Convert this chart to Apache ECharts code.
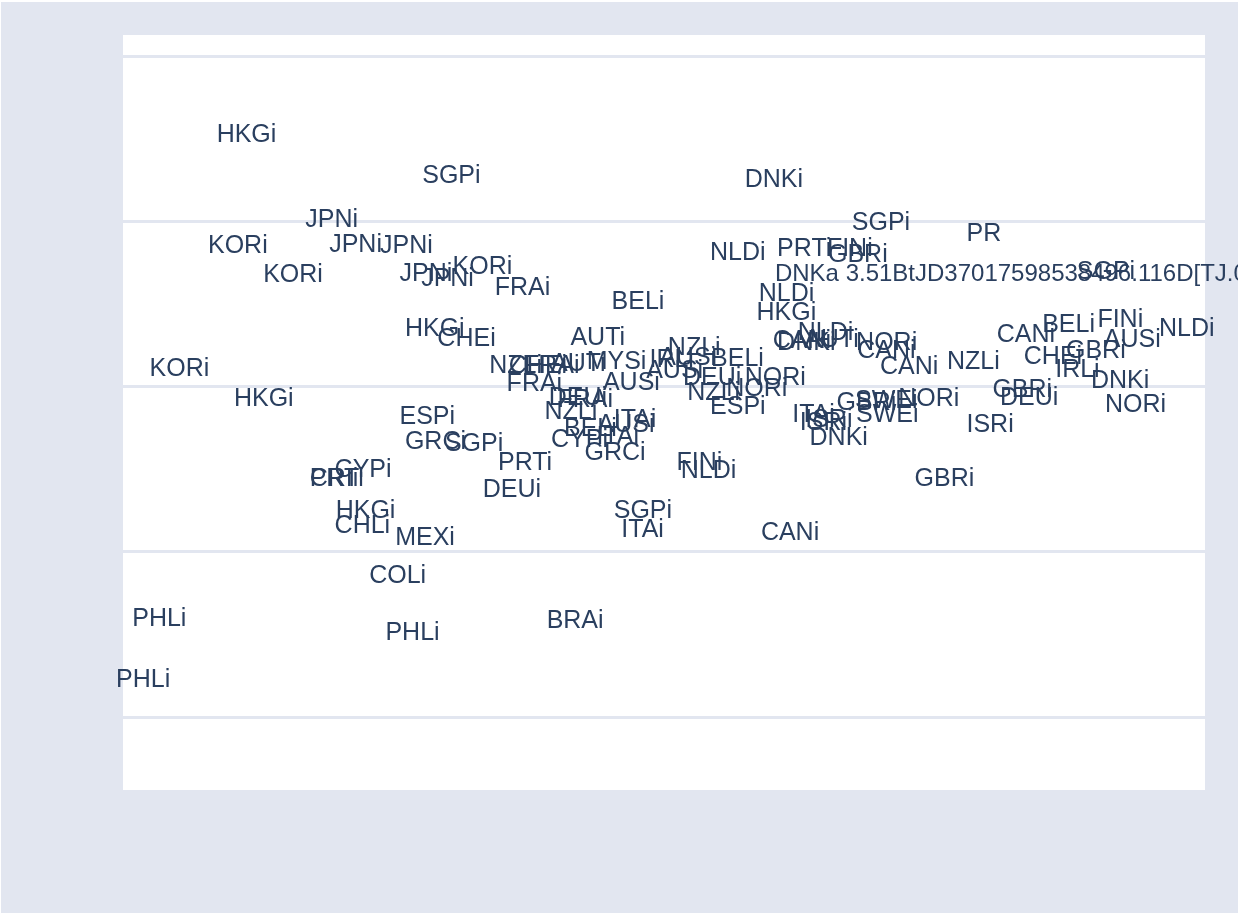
<!DOCTYPE html>
<html><head><meta charset="utf-8">
<script src="https://cdn.jsdelivr.net/npm/echarts/dist/echarts.min.js"></script>
<style>html,body{margin:0;padding:0;background:#fff;overflow:hidden;width:1238px;height:913px}#c{position:absolute;left:1px;top:2px;width:1237px;height:911px}</style>
</head><body><div id="c"></div>
<script>
// text labels of the scatter (country codes as drawn)
const labels = [
 'HKGi','SGPi','DNKi','JPNi','KORi','JPNi','JPNi','KORi','JPNi','JPNi',
 'KORi','FRAi','BELi','NLDi','PRTi','FINi','GBRi','SGPi','PR','DNKa 3.51BtJD37017598538496.116D[TJ.0',
 'NLDi','HKGi','SGPi','CANi','BELi','FINi','NLDi','AUSi','CHEi','GBRi',
 'IRLi','DNKi','NORi','GBRi','DEUi','NZLi','CANi','NORi','CANi','NLDi',
 'CANi','DNKi','AUTi','GBRi','SWEi','SWEi','NORi','ISRi','GBRi','ITAi',
 'ISRi','ISRi','DNKi','CANi','NLDi','FINi','SGPi','ITAi','DEUi','PRTi',
 'GRCi','CYPi','ITAi','BELi','AUSi','ITAi','NZLi','DEUi','FRAi','FRAi',
 'AUSi','NZLi','CHEi','FRAi','AUTi','MYSi','AUTi','HKGi','CHEi','ESPi',
 'GRCi','SGPi','KORi','HKGi','CYPi','PRTi','CRIi','HKGi','CHLi','MEXi',
 'COLi','PHLi','PHLi','BRAi','PHLi','NZLi','IRLi','AUSi','BELi','AUSi',
 'DEUi','NORi','NZLi','NORi','ESPi'
];
// horizontal values (0-100 scale)
const xValues = [
 8.7,27.7,57.5,16.9,7.9,19.1,23.8,13.0,25.6,27.6,
 30.5,34.4,45.2,54.3,60.5,65.1,65.2,67.4,78.0,60.3,
 58.8,58.6,88.2,80.8,85.0,90.1,95.8,90.7,83.3,87.2,
 86.2,89.5,90.8,80.4,81.1,76.2,70.0,67.8,67.9,62.4,
 60.1,60.5,63.0,66.0,67.7,67.8,71.7,78.0,73.2,61.9,
 62.6,63.1,63.5,59.0,51.6,51.2,45.4,46.1,33.3,34.7,
 42.7,39.6,43.8,40.8,43.9,45.4,39.0,39.4,40.2,35.5,
 44.4,33.9,35.7,37.1,39.6,42.9,41.4,26.1,29.1,25.6,
 26.1,29.8,2.5,10.3,19.6,17.3,17.3,19.7,19.6,25.2,
 22.8,0.9,24.3,39.2,-0.6,50.4,48.7,49.6,54.4,48.4,
 51.8,57.5,52.2,55.8,54.3
];
// vertical values
const yValues = [
 1.534,1.286,1.262,1.020,0.862,0.868,0.862,0.687,0.693,0.663,
 0.735,0.608,0.523,0.820,0.844,0.844,0.808,1.002,0.935,0.693,
 0.572,0.457,0.705,0.324,0.384,0.415,0.360,0.293,0.191,0.227,
 0.112,0.045,-0.100,-0.009,-0.057,0.160,0.130,0.275,0.227,0.336,
 0.287,0.275,0.293,-0.088,-0.076,-0.160,-0.064,-0.221,-0.548,-0.160,
 -0.209,-0.191,-0.300,-0.874,-0.499,-0.451,-0.741,-0.856,-0.614,-0.451,
 -0.390,-0.312,-0.293,-0.245,-0.221,-0.191,-0.142,-0.057,-0.070,0.027,
 0.033,0.136,0.136,0.136,0.148,0.160,0.306,0.360,0.300,-0.172,
 -0.324,-0.336,0.118,-0.064,-0.493,-0.548,-0.548,-0.741,-0.832,-0.905,
 -1.135,-1.395,-1.480,-1.407,-1.764,0.245,0.172,0.185,0.179,0.106,
 0.064,0.064,-0.027,-0.003,-0.112
];

const chart = echarts.init(document.getElementById('c'), null, {renderer:'canvas'});
chart.setOption({
  animation:false,
  backgroundColor:'#e2e6f0',
  grid:{left:122, top:33, width:1082, height:755, show:true, backgroundColor:'#ffffff', borderWidth:0},
  xAxis:{type:'value', min:0, max:100, show:false},
  yAxis:{type:'value', min:-2.442, max:2.127, splitNumber:5,
    axisLine:{show:false}, axisTick:{show:false}, axisLabel:{show:false},
    splitLine:{show:true, showMinLine:false, showMaxLine:false,
      lineStyle:{color:'#e2e6f0', width:3, type:'solid'}}},
  series:[
    {
      type:'scatter', z:3, clip:false, silent:true,
      symbol:'circle', symbolSize:1,
      itemStyle:{color:'rgba(0,0,0,0)', opacity:1},
      label:{show:true, formatter:'{b}', position:[0,0], offset:[0,3], align:'left', verticalAlign:'middle',
        color:'#2a3f5f', opacity:1, fontSize:25, fontFamily:'"Liberation Sans", Arial, sans-serif'},
      emphasis:{disabled:true},
      data:labels.map((n,i)=>{
        const d = {name:n, value:[xValues[i], yValues[i]]};
        if (n.length > 10) d.label = {fontSize:24};
        return d;
      })
    }
  ]
});
</script></body></html>
